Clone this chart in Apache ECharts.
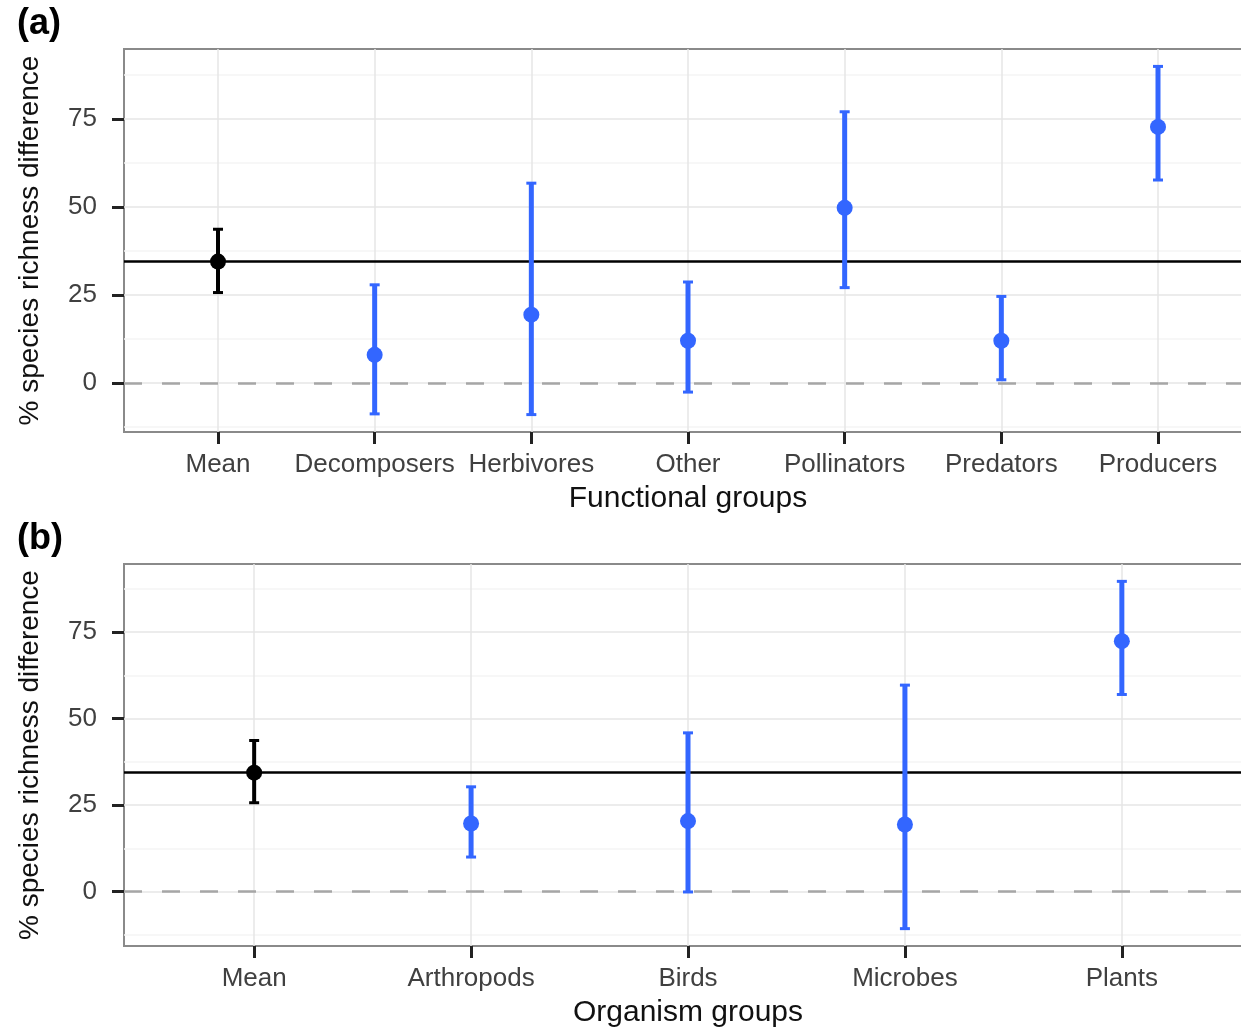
<!DOCTYPE html>
<html>
<head>
<meta charset="utf-8">
<script src="https://cdn.jsdelivr.net/npm/echarts@6/dist/echarts.min.js"></script>
<style>
  html, body { margin: 0; padding: 0; background: #fff; }
  #main { width: 1241px; height: 1029px; }
</style>
</head>
<body>
<div id="main"></div>
<script>
// panel (a): functional groups
const functionalGroups = ['Mean', 'Decomposers', 'Herbivores', 'Other', 'Pollinators', 'Predators', 'Producers'];
const functionalEst = [34.5, 8.0, 19.4, 12.0, 49.8, 12.0, 72.8];
const functionalLow = [25.7, -8.8, -9.0, -2.6, 27.1, 0.9, 57.7];
const functionalHigh = [43.7, 27.9, 56.8, 28.7, 77.1, 24.6, 90.0];

// panel (b): organism groups
const organismGroups = ['Mean', 'Arthropods', 'Birds', 'Microbes', 'Plants'];
const organismEst = [34.4, 19.7, 20.4, 19.4, 72.4];
const organismLow = [25.7, 10.0, -0.1, -10.7, 57.0];
const organismHigh = [43.7, 30.3, 45.9, 59.7, 89.7];

const yTicks = [0, 25, 50, 75];
const yMinorTicks = [-12.5, 12.5, 37.5, 62.5, 87.5];

const BLUE = '#3366FF';
const FONT = 'Liberation Sans, Arial, sans-serif';

const myChart = echarts.init(document.getElementById('main'), null, { renderer: 'canvas' });

function buildPanel(idx, groups, est, low, high, xName) {
  const lo = Math.min(...low), hi = Math.max(...high);
  const pad = (hi - lo) * 0.05;
  const positions = groups.map((g, i) => i + 1);
  const colorOf = i => (i === 0 ? '#000' : BLUE);

  const xAxis = {
    gridIndex: idx,
    type: 'value',
    min: 0.4,
    max: groups.length + 0.6,
    axisLine: { show: false, onZero: false },
    splitLine: { show: false },
    axisTick: {
      customValues: positions,
      length: 12,
      lineStyle: { color: '#222', width: 3 },
    },
    axisLabel: {
      customValues: positions,
      formatter: v => groups[Math.round(v) - 1] || '',
      margin: 20,
      fontSize: 26,
      color: '#404040',
      fontFamily: FONT,
    },
    name: xName,
    nameLocation: 'middle',
    nameGap: 52,
    nameTextStyle: { fontSize: 30, color: '#111', fontFamily: FONT },
  };

  const yAxis = {
    gridIndex: idx,
    type: 'value',
    min: lo - pad,
    max: hi + pad,
    axisLine: { show: false, onZero: false },
    splitLine: { show: false },
    axisTick: {
      customValues: yTicks,
      length: 12,
      lineStyle: { color: '#222', width: 3 },
    },
    axisLabel: {
      customValues: yTicks,
      margin: 27,
      fontSize: 26,
      color: '#404040',
      fontFamily: FONT,
    },
    name: '% species richness difference',
    nameLocation: 'middle',
    nameRotate: 90,
    nameGap: 80,
    nameTextStyle: { fontSize: 28, color: '#111', fontFamily: FONT },
  };

  const quiet = { symbol: ['none', 'none'], silent: true, label: { show: false }, animation: false };

  const series = [
    {
      // background grid lines
      type: 'line',
      xAxisIndex: idx,
      yAxisIndex: idx,
      data: [],
      z: 1,
      markLine: Object.assign({}, quiet, {
        z: 1,
        data: [
          ...yMinorTicks.map(v => ({ yAxis: v, lineStyle: { color: '#f4f4f4', width: 1.5, type: 'solid' } })),
          ...yTicks.map(v => ({ yAxis: v, lineStyle: { color: '#e6e6e6', width: 1.5, type: 'solid' } })),
          ...positions.map(v => ({ xAxis: v, lineStyle: { color: '#e6e6e6', width: 1.5, type: 'solid' } })),
        ],
      }),
    },
    {
      // zero reference and overall mean lines
      type: 'line',
      xAxisIndex: idx,
      yAxisIndex: idx,
      data: [],
      z: 2,
      markLine: Object.assign({}, quiet, {
        z: 2,
        data: [
          { yAxis: 0, lineStyle: { color: '#a6a6a6', width: 2.5, type: [18, 20] } },
          { yAxis: est[0], lineStyle: { color: '#000', width: 2.5, type: 'solid' } },
        ],
      }),
    },
    {
      type: 'custom',
      xAxisIndex: idx,
      yAxisIndex: idx,
      z: 3,
      data: groups.map((g, i) => ({
        value: [i + 1, low[i], high[i]],
        itemStyle: { color: colorOf(i) },
      })),
      renderItem: (params, api) => {
        const x = api.value(0);
        const bot = api.coord([x, api.value(1)]);
        const top = api.coord([x, api.value(2)]);
        const color = api.visual('color');
        const w = params.dataIndex === 0 ? 4 : 5;
        const style = { stroke: color, lineWidth: w };
        const capStyle = { stroke: color, lineWidth: 3 };
        return {
          type: 'group',
          children: [
            { type: 'line', shape: { x1: top[0], y1: top[1], x2: bot[0], y2: bot[1] }, style },
            { type: 'line', shape: { x1: top[0] - 5, y1: top[1], x2: top[0] + 5, y2: top[1] }, style: capStyle },
            { type: 'line', shape: { x1: bot[0] - 5, y1: bot[1], x2: bot[0] + 5, y2: bot[1] }, style: capStyle },
          ],
        };
      },
    },
    {
      type: 'scatter',
      xAxisIndex: idx,
      yAxisIndex: idx,
      z: 4,
      symbolSize: 16,
      data: groups.map((g, i) => ({
        value: [i + 1, est[i]],
        itemStyle: { color: colorOf(i), opacity: 1 },
      })),
    },
  ];
  return { xAxis, yAxis, series };
}

const panelA = buildPanel(0, functionalGroups, functionalEst, functionalLow, functionalHigh, 'Functional groups');
const panelB = buildPanel(1, organismGroups, organismEst, organismLow, organismHigh, 'Organism groups');

const gridBase = {
  left: 124,
  width: 1128,
  show: true,
  borderColor: '#8a8a8a',
  borderWidth: 2,
  backgroundColor: '#fff',
  containLabel: false,
  outerBoundsMode: 'none',
};

const option = {
  animation: false,
  backgroundColor: '#fff',
  title: [
    { text: '(a)', left: 12, top: 1, textStyle: { fontSize: 36, fontWeight: 'bold', color: '#000', fontFamily: FONT } },
    { text: '(b)', left: 12, top: 516, textStyle: { fontSize: 36, fontWeight: 'bold', color: '#000', fontFamily: FONT } },
  ],
  grid: [
    Object.assign({}, gridBase, { top: 49, height: 383 }),
    Object.assign({}, gridBase, { top: 564, height: 382 }),
  ],
  xAxis: [panelA.xAxis, panelB.xAxis],
  yAxis: [panelA.yAxis, panelB.yAxis],
  series: [...panelA.series, ...panelB.series],
};

myChart.setOption(option);
window.addEventListener('resize', () => myChart.resize());
</script>
</body>
</html>
